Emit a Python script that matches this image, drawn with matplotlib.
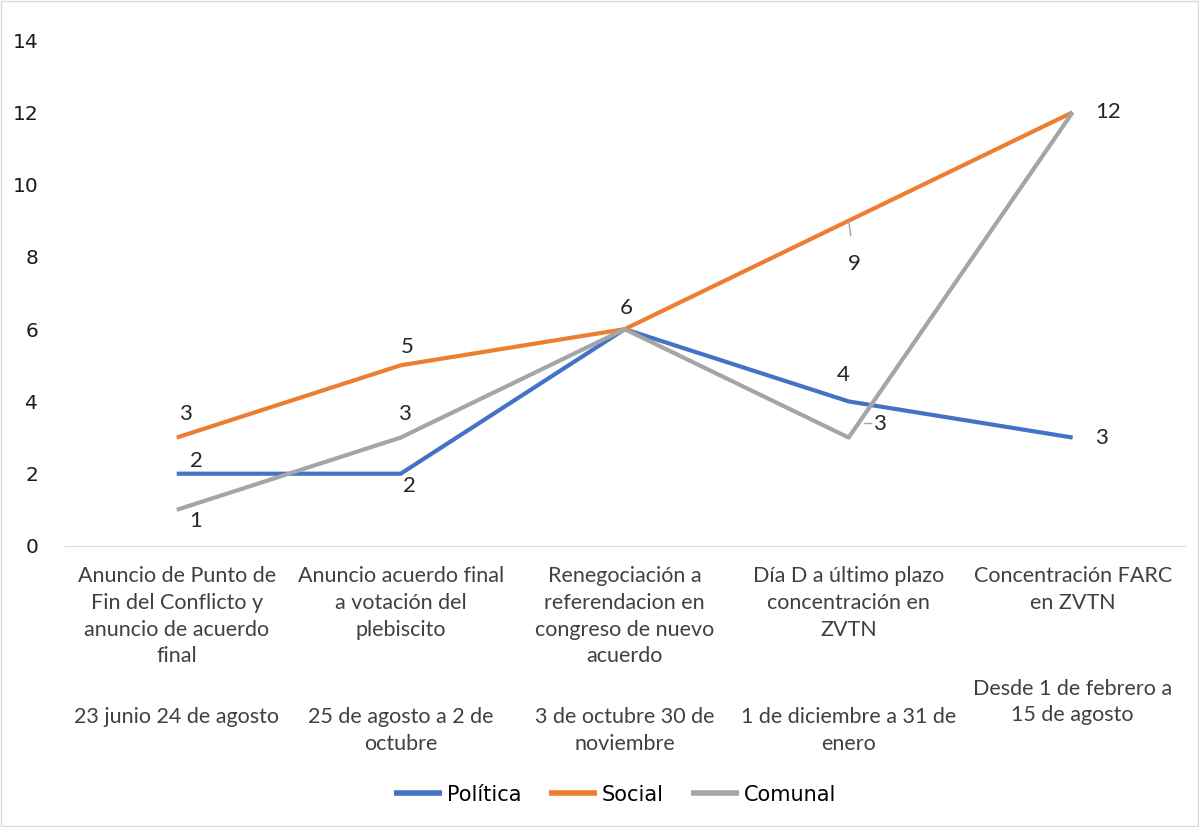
import numpy as np
import matplotlib.pyplot as plt
from matplotlib.patches import Rectangle
from matplotlib.transforms import blended_transform_factory

categorias = ['Anuncio de Punto de\nFin del Conflicto y\nanuncio de acuerdo\nfinal',
              'Anuncio acuerdo final\na votación del\nplebiscito',
              'Renegociación a\nreferendacion en\ncongreso de nuevo\nacuerdo',
              'Día D a último plazo\nconcentración en\nZVTN',
              'Concentración FARC\nen ZVTN']
fechas = ['23 junio 24 de agosto',
          '25 de agosto a 2 de\noctubre',
          '3 de octubre 30 de\nnoviembre',
          '1 de diciembre a 31 de\nenero',
          'Desde 1 de febrero a\n15 de agosto']
politica = [2, 2, 6, 4, 3]
social = [3, 5, 6, 9, 12]
comunal = [1, 3, 6, 3, 12]

azul = '#4472C4'
naranja = '#ED7D31'
gris = '#A5A5A5'

fig = plt.figure(figsize=(11.99, 8.27), dpi=100)
ax = fig.add_axes([0.054, 0.3398, 0.934, 0.6118])

x = np.arange(len(categorias))
ax.plot(x, politica, color=azul, lw=3, label='Política', solid_capstyle='butt')
ax.plot(x, social, color=naranja, lw=3, label='Social', solid_capstyle='butt')
ax.plot(x, comunal, color=gris, lw=3, label='Comunal', solid_capstyle='butt')

ax.set_xlim(-0.5, 4.5)
ax.set_ylim(0, 14)
ax.set_yticks(range(0, 15, 2))
ax.set_xticks([])
for s in ['top', 'right', 'left']:
    ax.spines[s].set_visible(False)
ax.spines['bottom'].set_color('#D9D9D9')
ax.tick_params(axis='y', length=0, labelsize=14.5, pad=19, labelcolor='#1a1a1a')

# etiquetas de datos (desplazamiento en pixeles)
def etiqueta(xi, yi, txt, dx, dy):
    ax.annotate(txt, (xi, yi), xytext=(dx, dy), textcoords='offset pixels',
                ha='center', va='center', fontsize=16, family='Lato', color='#262626')

etiqueta(0, politica[0], '2', 20, 13)
etiqueta(1, politica[1], '2', 9, -12)
etiqueta(3, politica[3], '4', -5, 26)
etiqueta(4, politica[4], '3', 29, 0)
etiqueta(0, social[0], '3', 9, 24)
etiqueta(1, social[1], '5', 7, 18)
etiqueta(2, social[2], '6', 2, 21)
etiqueta(4, social[4], '12', 35, 0)
etiqueta(0, comunal[0], '1', 19, -11)
etiqueta(1, comunal[1], '3', 4, 24)
ax.annotate('9', (3, social[3]), xytext=(6, -43), textcoords='offset pixels',
            ha='center', va='center', fontsize=16, family='Lato', color='#262626',
            arrowprops=dict(arrowstyle='-', color=gris, lw=1, shrinkA=11, shrinkB=0))
ax.annotate('3', (3, comunal[3]), xytext=(31, 14), textcoords='offset pixels',
            ha='center', va='center', fontsize=16, family='Lato', color='#262626')
ax.plot([3.07, 3.1], [3.4, 3.4], color=gris, lw=1)

# etiquetas del eje x en dos niveles
tr = blended_transform_factory(ax.transData, ax.transAxes)
for i in x:
    ax.text(i, -0.04, categorias[i], transform=tr, ha='center', va='top',
            fontsize=15.5, family='Lato', color='#404040', linespacing=1.42)
    y0 = -0.262 if i == 4 else -0.318
    ax.text(i, y0, fechas[i], transform=tr, ha='center', va='top',
            fontsize=15.5, family='Lato', color='#404040', linespacing=1.42)
for i in range(4):
    ax.plot([i + 0.5, i + 0.5], [-0.685, -0.69], transform=tr, color='#D9D9D9',
            lw=1, clip_on=False)

leg = fig.legend(loc='center', bbox_to_anchor=(0.513, 0.039), ncol=3, frameon=False,
                 handlelength=2.3, handletextpad=0.25, columnspacing=1.3,
                 prop={'size': 15})
for h in leg.legend_handles:
    h.set_linewidth(4)

fig.patches.append(Rectangle((0.001, 0.001), 0.998, 0.998, transform=fig.transFigure,
                             fill=False, edgecolor='#D9D9D9', lw=1))

fig.savefig('out.png', dpi=100)
